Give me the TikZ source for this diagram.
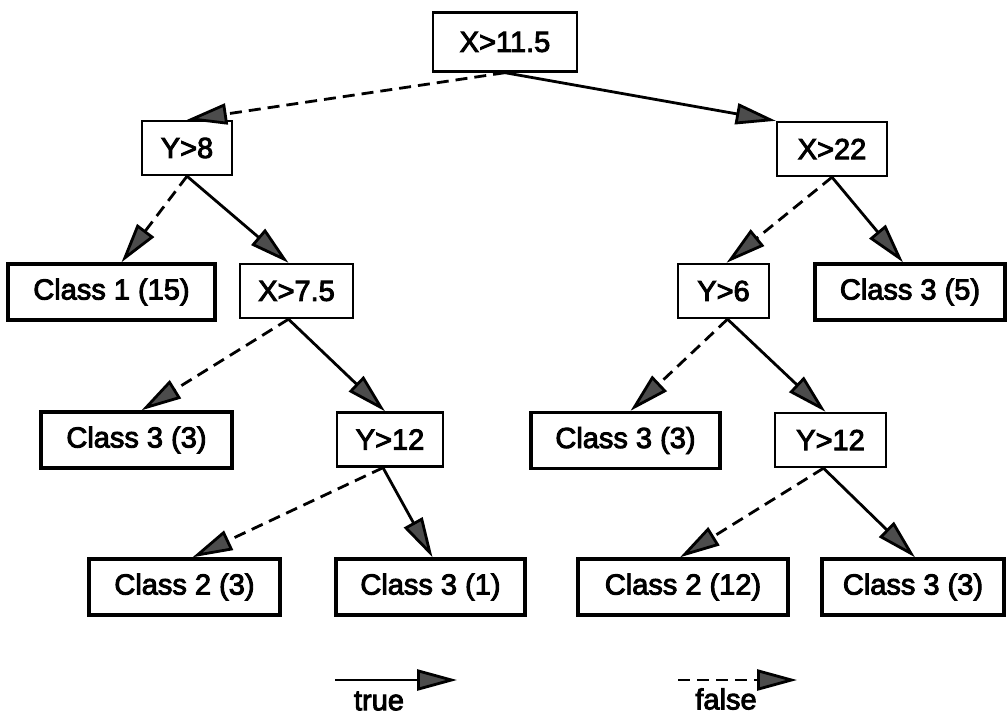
\documentclass[tikz,border=0pt]{standalone}
\usepackage{fontspec}
\setmainfont{Liberation Sans}[FakeBold=3.2]
\usetikzlibrary{arrows.meta}
\begin{document}
\begin{tikzpicture}[x=1pt,y=-1pt,
  font=\fontsize{29}{32}\selectfont,
  test/.style={draw,line width=2.4pt,inner sep=0pt,minimum height=54pt},
  leaf/.style={draw,line width=3.4pt,inner sep=0pt,minimum height=56pt},
  head/.style={-{Triangle[length=40pt,width=21pt,fill=black!70]}},
  yes/.style={head,line width=2.8pt},
  no/.style={head,line width=2.8pt,dash pattern=on 12pt off 7pt}]
\useasboundingbox (0,0) rectangle (1007,718);

% decision nodes
\node[test,minimum width=144pt,minimum height=59pt] (root) at (505,42) {X>11.5};
\node[test,minimum width=90pt]  (y8)   at (187,148) {Y>8};
\node[test,minimum width=110pt] (x22)  at (832,149) {X>22};
\node[test,minimum width=113pt] (x75)  at (296.5,291) {X>7.5};
\node[test,minimum width=91pt]  (y6)   at (723.5,291) {Y>6};
\node[test,minimum width=106pt] (y12a) at (390,439.5) {Y>12};
\node[test,minimum width=111pt] (y12b) at (830.5,440) {Y>12};

% leaves
\node[leaf,minimum width=207pt] (c1)  at (111.5,292) {Class 1 (15)};
\node[leaf,minimum width=190pt] (c5)  at (910,292)   {Class 3 (5)};
\node[leaf,minimum width=191pt] (c3a) at (136.5,440) {Class 3 (3)};
\node[leaf,minimum width=189pt] (c3b) at (625.5,440.5) {Class 3 (3)};
\node[leaf,minimum width=191pt] (c23) at (184.5,587) {Class 2 (3)};
\node[leaf,minimum width=189pt] (c31) at (430.5,587) {Class 3 (1)};
\node[leaf,minimum width=210pt] (c212) at (683,587) {Class 2 (12)};
\node[leaf,minimum width=182pt] (c3c) at (913,587) {Class 3 (3)};

% branches: solid = true, dashed = false
\draw[no]  (root.south) -- (y8.north);
\draw[yes] (root.south) -- (x22.north west);
\draw[no]  (y8.south) -- ([xshift=10pt]c1.north);
\draw[yes] (y8.south) -- ([xshift=-8pt]x75.north);
\draw[no]  (x22.south) -- ([xshift=3pt]y6.north);
\draw[yes] (x22.south) -- ([xshift=-7pt]c5.north);
\draw[no]  ([xshift=-8pt]x75.south) -- ([xshift=5pt]c3a.north);
\draw[yes] ([xshift=-8pt]x75.south) -- ([xshift=-5pt]y12a.north);
\draw[no]  ([xshift=4pt]y6.south) -- ([xshift=5pt]c3b.north);
\draw[yes] ([xshift=4pt]y6.south) -- ([xshift=-5pt]y12b.north);
\draw[no]  ([xshift=-7pt]y12a.south) -- ([xshift=8pt]c23.north);
\draw[yes] ([xshift=-7pt]y12a.south) -- ([xshift=2pt]c31.north);
\draw[no]  ([xshift=-7pt]y12b.south) -- ([xshift=-3pt]c212.north);
\draw[yes] ([xshift=-7pt]y12b.south) -- ([xshift=2pt]c3c.north);

% legend
\coordinate (ta) at (335,680);
\coordinate (tb) at (457,680);
\coordinate (fa) at (678,680);
\coordinate (fb) at (797,680);
\draw[yes] (ta) -- (tb);
\draw[no]  (fa) -- (fb);
\node (tlab) at (379,701) {true};
\node (flab) at (726,699) {false};
\end{tikzpicture}
\end{document}
